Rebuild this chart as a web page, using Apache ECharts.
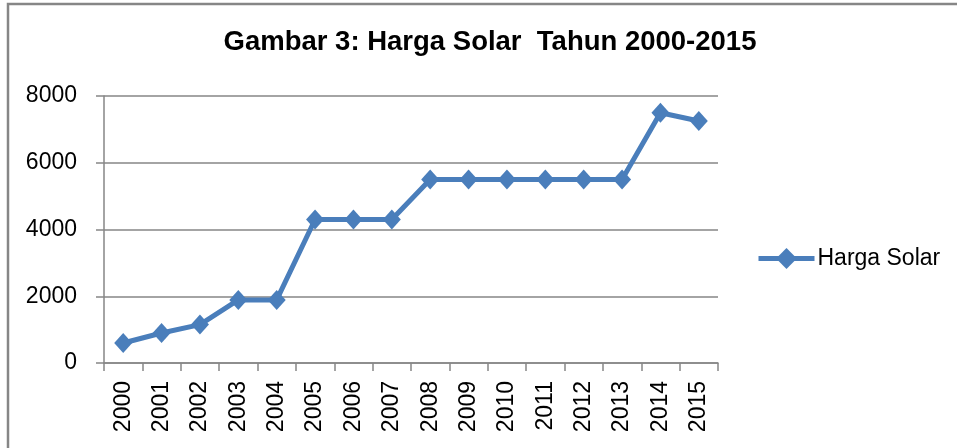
<!DOCTYPE html>
<html>
<head>
<meta charset="utf-8">
<script src="https://cdn.jsdelivr.net/npm/echarts@6/dist/echarts.min.js"></script>
<style>
html,body{margin:0;padding:0;background:#fff;}
#chart{width:957px;height:448px;}
</style>
</head>
<body>
<div id="chart"></div>
<script>
const years = ['2000','2001','2002','2003','2004','2005','2006','2007','2008','2009','2010','2011','2012','2013','2014','2015'];
const hargaSolar = [600, 900, 1150, 1890, 1890, 4300, 4300, 4300, 5500, 5500, 5500, 5500, 5500, 5500, 7500, 7250];
const yTicks = { min: 0, max: 8000, interval: 2000 };
const seriesName = 'Harga Solar';
const titleText = 'Gambar 3: Harga Solar  Tahun 2000-2015';

const FONT = '"Liberation Sans", Arial, sans-serif';
const chart = echarts.init(document.getElementById('chart'), null, { renderer: 'canvas' });
chart.setOption({
  backgroundColor: '#ffffff',
  animation: false,
  title: {
    text: titleText,
    left: 490, top: 28, textAlign: 'center', padding: 0,
    textStyle: { fontFamily: FONT, fontWeight: 'bold', fontSize: 27.5, color: '#000' }
  },
  legend: {
    data: [seriesName],
    left: 756, top: 247, padding: 0,
    itemWidth: 56, itemHeight: 26, itemGap: 10,
    lineStyle: { width: 5 },
    textStyle: { fontFamily: FONT, fontSize: 23, color: '#000', padding: [0,0,0,-2] }
  },
  grid: { left: 104, right: 239, top: 96, bottom: 85, containLabel: false },
  xAxis: {
    type: 'category',
    data: years,
    boundaryGap: true,
    axisLine: { lineStyle: { color: '#868686', width: 1.5 } },
    axisTick: { show: true, length: 8, alignWithLabel: false, lineStyle: { color: '#868686', width: 1.5 } },
    axisLabel: { rotate: 90, margin: 18, fontFamily: FONT, fontSize: 23, color: '#000', interval: 0 },
    splitLine: { show: false }
  },
  yAxis: {
    type: 'value',
    min: yTicks.min, max: yTicks.max, interval: yTicks.interval,
    axisLine: { show: true, lineStyle: { color: '#868686', width: 1.5 } },
    axisTick: { show: true, length: 8, lineStyle: { color: '#868686', width: 1.5 } },
    axisLabel: { margin: 27, fontFamily: FONT, fontSize: 23, color: '#000', formatter: v => String(v) },
    splitLine: { show: true, lineStyle: { color: '#868686', width: 1.5 } }
  },
  series: [{
    name: seriesName,
    type: 'line',
    data: hargaSolar,
    symbol: 'diamond',
    symbolSize: [18, 20],
    itemStyle: { color: '#4a7ebb' },
    lineStyle: { color: '#4a7ebb', width: 5 }
  }],
  graphic: [
    { type: 'polyline', shape: { points: [[8, 448], [8, 4], [957, 4]] }, style: { stroke: '#868686', lineWidth: 2.5, fill: null } }
  ]
});
</script>
</body>
</html>
